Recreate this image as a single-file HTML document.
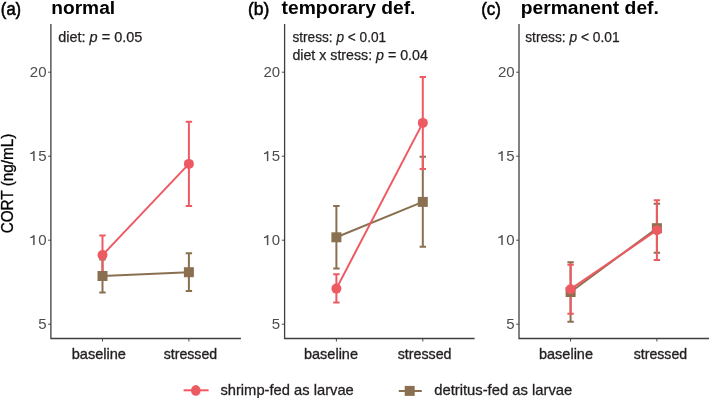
<!DOCTYPE html>
<html><head><meta charset="utf-8"><style>
html,body{margin:0;padding:0;background:#fff;}
body{width:709px;height:398px;overflow:hidden;}
svg{display:block;will-change:transform;}
text{font-family:"Liberation Sans",sans-serif;}
.yt{font-size:15px;fill:#4D4D4D;}
.ttl{font-size:18px;font-weight:bold;fill:#000;}
.lab{font-size:18px;fill:#000;stroke:#000;stroke-width:0.55px;}
.ann{font-size:14px;fill:#231f20;stroke:#231f20;stroke-width:0.25px;}
.xl{font-size:15px;fill:#231f20;stroke:#231f20;stroke-width:0.35px;}
.ytl{font-size:16px;fill:#000;stroke:#000;stroke-width:0.3px;}
.leg{font-size:15px;fill:#231f20;stroke:#231f20;stroke-width:0.3px;}
</style></head><body>
<svg width="709" height="398" viewBox="0 0 709 398">
<rect width="709" height="398" fill="#fff"/>
<path d="M50.90 24.0 V338.5 H240.90" fill="none" stroke="#3f3f3f" stroke-width="1.3"/>
<line x1="48.10" y1="72.2" x2="50.90" y2="72.2" stroke="#3f3f3f" stroke-width="0.95"/>
<text x="46.50" y="77.20" text-anchor="end" class="yt">20</text>
<line x1="48.10" y1="156.2" x2="50.90" y2="156.2" stroke="#3f3f3f" stroke-width="0.95"/>
<text x="46.50" y="161.20" text-anchor="end" class="yt">5</text>
<path d="M33.90 151.20 V161.10" stroke="#4D4D4D" stroke-width="1.45" fill="none"/>
<path d="M33.90 151.60 Q32.50 153.60 30.30 153.70" stroke="#4D4D4D" stroke-width="1.3" fill="none"/>
<line x1="48.10" y1="240.2" x2="50.90" y2="240.2" stroke="#3f3f3f" stroke-width="0.95"/>
<text x="46.50" y="245.20" text-anchor="end" class="yt">0</text>
<path d="M33.90 235.20 V245.10" stroke="#4D4D4D" stroke-width="1.45" fill="none"/>
<path d="M33.90 235.60 Q32.50 237.60 30.30 237.70" stroke="#4D4D4D" stroke-width="1.3" fill="none"/>
<line x1="48.10" y1="324.2" x2="50.90" y2="324.2" stroke="#3f3f3f" stroke-width="0.95"/>
<text x="46.50" y="329.20" text-anchor="end" class="yt">5</text>
<line x1="102.5" y1="338.5" x2="102.5" y2="341.5" stroke="#3f3f3f" stroke-width="0.95"/>
<line x1="188.9" y1="338.5" x2="188.9" y2="341.5" stroke="#3f3f3f" stroke-width="0.95"/>
<line x1="102.5" y1="276.0" x2="188.9" y2="272.2" stroke="#8A7050" stroke-width="2.0"/>
<line x1="102.5" y1="255.1" x2="188.9" y2="163.9" stroke="#EE5A62" stroke-width="2.0"/>
<path d="M99.30 259.4 H105.70 M102.5 259.4 V292.6 M99.30 292.6 H105.70" fill="none" stroke="#8A7050" stroke-width="2.0"/>
<path d="M185.70 253.2 H192.10 M188.9 253.2 V290.9 M185.70 290.9 H192.10" fill="none" stroke="#8A7050" stroke-width="2.0"/>
<path d="M99.30 235.5 H105.70 M102.5 235.5 V274.7 M99.30 274.7 H105.70" fill="none" stroke="#EE5A62" stroke-width="2.0"/>
<path d="M185.70 121.8 H192.10 M188.9 121.8 V206.0 M185.70 206.0 H192.10" fill="none" stroke="#EE5A62" stroke-width="2.0"/>
<rect x="97.50" y="271.00" width="10.0" height="10.0" fill="#8A7050"/>
<rect x="183.90" y="267.20" width="10.0" height="10.0" fill="#8A7050"/>
<circle cx="102.5" cy="255.1" r="5.0" fill="#EE5A62"/>
<circle cx="188.9" cy="163.9" r="5.0" fill="#EE5A62"/>
<path d="M284.60 24.0 V338.5 H474.60" fill="none" stroke="#3f3f3f" stroke-width="1.3"/>
<line x1="281.80" y1="72.2" x2="284.60" y2="72.2" stroke="#3f3f3f" stroke-width="0.95"/>
<text x="280.20" y="77.20" text-anchor="end" class="yt">20</text>
<line x1="281.80" y1="156.2" x2="284.60" y2="156.2" stroke="#3f3f3f" stroke-width="0.95"/>
<text x="280.20" y="161.20" text-anchor="end" class="yt">5</text>
<path d="M267.60 151.20 V161.10" stroke="#4D4D4D" stroke-width="1.45" fill="none"/>
<path d="M267.60 151.60 Q266.20 153.60 264.00 153.70" stroke="#4D4D4D" stroke-width="1.3" fill="none"/>
<line x1="281.80" y1="240.2" x2="284.60" y2="240.2" stroke="#3f3f3f" stroke-width="0.95"/>
<text x="280.20" y="245.20" text-anchor="end" class="yt">0</text>
<path d="M267.60 235.20 V245.10" stroke="#4D4D4D" stroke-width="1.45" fill="none"/>
<path d="M267.60 235.60 Q266.20 237.60 264.00 237.70" stroke="#4D4D4D" stroke-width="1.3" fill="none"/>
<line x1="281.80" y1="324.2" x2="284.60" y2="324.2" stroke="#3f3f3f" stroke-width="0.95"/>
<text x="280.20" y="329.20" text-anchor="end" class="yt">5</text>
<line x1="336.4" y1="338.5" x2="336.4" y2="341.5" stroke="#3f3f3f" stroke-width="0.95"/>
<line x1="422.8" y1="338.5" x2="422.8" y2="341.5" stroke="#3f3f3f" stroke-width="0.95"/>
<line x1="336.4" y1="237.3" x2="422.8" y2="201.9" stroke="#8A7050" stroke-width="2.0"/>
<line x1="336.4" y1="288.6" x2="422.8" y2="122.9" stroke="#EE5A62" stroke-width="2.0"/>
<path d="M333.20 206.1 H339.60 M336.4 206.1 V268.4 M333.20 268.4 H339.60" fill="none" stroke="#8A7050" stroke-width="2.0"/>
<path d="M419.60 156.8 H426.00 M422.8 156.8 V246.7 M419.60 246.7 H426.00" fill="none" stroke="#8A7050" stroke-width="2.0"/>
<path d="M333.20 274.3 H339.60 M336.4 274.3 V302.6 M333.20 302.6 H339.60" fill="none" stroke="#EE5A62" stroke-width="2.0"/>
<path d="M419.60 77.1 H426.00 M422.8 77.1 V169.1 M419.60 169.1 H426.00" fill="none" stroke="#EE5A62" stroke-width="2.0"/>
<rect x="331.40" y="232.30" width="10.0" height="10.0" fill="#8A7050"/>
<rect x="417.80" y="196.90" width="10.0" height="10.0" fill="#8A7050"/>
<circle cx="336.4" cy="288.6" r="5.0" fill="#EE5A62"/>
<circle cx="422.8" cy="122.9" r="5.0" fill="#EE5A62"/>
<path d="M519.00 24.0 V338.5 H709.00" fill="none" stroke="#3f3f3f" stroke-width="1.3"/>
<line x1="516.20" y1="72.2" x2="519.00" y2="72.2" stroke="#3f3f3f" stroke-width="0.95"/>
<text x="514.60" y="77.20" text-anchor="end" class="yt">20</text>
<line x1="516.20" y1="156.2" x2="519.00" y2="156.2" stroke="#3f3f3f" stroke-width="0.95"/>
<text x="514.60" y="161.20" text-anchor="end" class="yt">5</text>
<path d="M502.00 151.20 V161.10" stroke="#4D4D4D" stroke-width="1.45" fill="none"/>
<path d="M502.00 151.60 Q500.60 153.60 498.40 153.70" stroke="#4D4D4D" stroke-width="1.3" fill="none"/>
<line x1="516.20" y1="240.2" x2="519.00" y2="240.2" stroke="#3f3f3f" stroke-width="0.95"/>
<text x="514.60" y="245.20" text-anchor="end" class="yt">0</text>
<path d="M502.00 235.20 V245.10" stroke="#4D4D4D" stroke-width="1.45" fill="none"/>
<path d="M502.00 235.60 Q500.60 237.60 498.40 237.70" stroke="#4D4D4D" stroke-width="1.3" fill="none"/>
<line x1="516.20" y1="324.2" x2="519.00" y2="324.2" stroke="#3f3f3f" stroke-width="0.95"/>
<text x="514.60" y="329.20" text-anchor="end" class="yt">5</text>
<line x1="570.6" y1="338.5" x2="570.6" y2="341.5" stroke="#3f3f3f" stroke-width="0.95"/>
<line x1="656.9" y1="338.5" x2="656.9" y2="341.5" stroke="#3f3f3f" stroke-width="0.95"/>
<line x1="570.6" y1="292.0" x2="656.9" y2="228.2" stroke="#8A7050" stroke-width="2.0"/>
<line x1="570.6" y1="289.2" x2="656.9" y2="230.2" stroke="#EE5A62" stroke-width="2.0"/>
<path d="M567.40 262.2 H573.80 M570.6 262.2 V321.85 M567.40 321.85 H573.80" fill="none" stroke="#8A7050" stroke-width="2.0"/>
<path d="M653.70 203.7 H660.10 M656.9 203.7 V252.7 M653.70 252.7 H660.10" fill="none" stroke="#8A7050" stroke-width="2.0"/>
<path d="M567.40 264.7 H573.80 M570.6 264.7 V313.8 M567.40 313.8 H573.80" fill="none" stroke="#EE5A62" stroke-width="2.0"/>
<path d="M653.70 200.2 H660.10 M656.9 200.2 V260.0 M653.70 260.0 H660.10" fill="none" stroke="#EE5A62" stroke-width="2.0"/>
<rect x="565.60" y="287.00" width="10.0" height="10.0" fill="#8A7050"/>
<rect x="651.90" y="223.20" width="10.0" height="10.0" fill="#8A7050"/>
<circle cx="570.6" cy="289.2" r="5.0" fill="#EE5A62"/>
<circle cx="656.9" cy="230.2" r="5.0" fill="#EE5A62"/>
<text x="0.85" y="14.9" class="lab" textLength="20.3" lengthAdjust="spacingAndGlyphs">(a)</text>
<text x="51.3" y="14.2" class="ttl" textLength="63.8" lengthAdjust="spacingAndGlyphs">normal</text>
<text x="247.9" y="14.9" class="lab" textLength="21.4" lengthAdjust="spacingAndGlyphs">(b)</text>
<text x="281.6" y="14.2" class="ttl" textLength="133.9" lengthAdjust="spacingAndGlyphs">temporary def.</text>
<text x="481.2" y="14.9" class="lab" textLength="19.8" lengthAdjust="spacingAndGlyphs">(c)</text>
<text x="520.7" y="14.2" class="ttl" textLength="138.2" lengthAdjust="spacingAndGlyphs">permanent def.</text>
<text x="58.2" y="41.5" class="ann" textLength="84.2" lengthAdjust="spacingAndGlyphs">diet: <tspan font-style="italic">p</tspan> = 0.05</text>
<text x="292.4" y="42.3" class="ann" textLength="93.7" lengthAdjust="spacingAndGlyphs">stress: <tspan font-style="italic">p</tspan> &lt; 0.01</text>
<text x="292.4" y="59.9" class="ann" textLength="135.4" lengthAdjust="spacingAndGlyphs">diet x stress: <tspan font-style="italic">p</tspan> = 0.04</text>
<text x="525.2" y="41.9" class="ann" textLength="94.4" lengthAdjust="spacingAndGlyphs">stress: <tspan font-style="italic">p</tspan> &lt; 0.01</text>
<text x="71.7" y="359.3" class="xl" textLength="54.3" lengthAdjust="spacingAndGlyphs">baseline</text>
<text x="163.8" y="359.3" class="xl" textLength="53.3" lengthAdjust="spacingAndGlyphs">stressed</text>
<text x="304" y="359.3" class="xl" textLength="54.0" lengthAdjust="spacingAndGlyphs">baseline</text>
<text x="397.7" y="359.3" class="xl" textLength="53.8" lengthAdjust="spacingAndGlyphs">stressed</text>
<text x="539" y="359.3" class="xl" textLength="54.0" lengthAdjust="spacingAndGlyphs">baseline</text>
<text x="633.8" y="359.3" class="xl" textLength="53.3" lengthAdjust="spacingAndGlyphs">stressed</text>
<text transform="translate(12.8 183.5) rotate(-90)" text-anchor="middle" class="ytl" textLength="99.6" lengthAdjust="spacingAndGlyphs">CORT (ng/mL)</text>
<line x1="183.6" y1="390.3" x2="208.6" y2="390.3" stroke="#EE5A62" stroke-width="2.0"/>
<ellipse cx="195.8" cy="390.4" rx="4.8" ry="5.3" fill="#EE5A62"/>
<text x="220.4" y="394.6" class="leg" textLength="133.4" lengthAdjust="spacingAndGlyphs">shrimp-fed as larvae</text>
<line x1="398.8" y1="391.0" x2="421.8" y2="391.0" stroke="#8A7050" stroke-width="2.0"/>
<rect x="404.70" y="385.90" width="10.0" height="10.0" fill="#8A7050"/>
<text x="434.2" y="394.6" class="leg" textLength="138.1" lengthAdjust="spacingAndGlyphs">detritus-fed as larvae</text>
</svg>
</body></html>
